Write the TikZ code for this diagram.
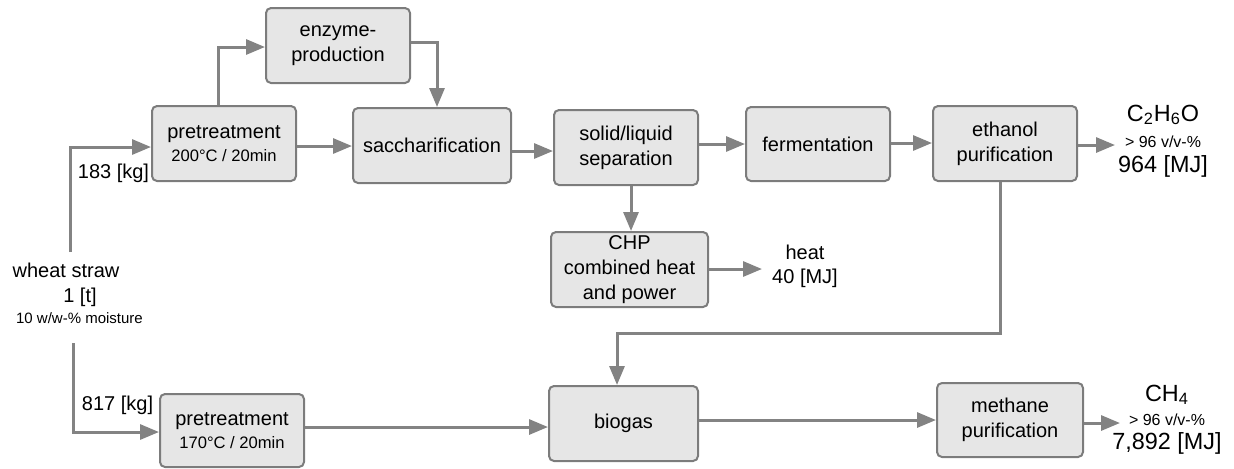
\documentclass[tikz,border=0pt]{standalone}
\usepackage{fontspec}
\setmainfont{Liberation Sans}
\usetikzlibrary{arrows.meta}
\definecolor{boxfill}{HTML}{E6E6E6}
\definecolor{boxline}{HTML}{7C7C7C}
\definecolor{flow}{HTML}{838383}
\begin{document}
\begin{tikzpicture}[x=0.5pt,y=-0.5pt,
  proc/.style={draw=boxline, fill=boxfill, line width=1pt, rounded corners=2.5pt,
    minimum height=37.5pt, minimum width=72pt, inner sep=0pt, align=center,
    font=\fontsize{10}{12.5}\selectfont},
  arr/.style={draw=flow, line width=1.5pt, -{Triangle[length=9.5pt,width=7.5pt]}},
  lbl/.style={inner sep=0pt, font=\fontsize{10}{12}\selectfont},
  sml/.style={inner sep=0pt, font=\fontsize{7.5}{9}\selectfont},
  big/.style={inner sep=0pt, font=\fontsize{11.7}{14}\selectfont}]
\useasboundingbox (0,0) rectangle (1234,468);

% process boxes
\node[proc] (pre1) at (224,143.5) {pretreatment\\[-1pt]{\fontsize{8.3}{10}\selectfont 200°C / 20min}};
\node[proc] (enz)  at (338,45.5) {enzyme-\\production};
\node[proc, minimum width=79pt] (sacc) at (432,145.5) {saccharification};
\node[proc] (sep)  at (626,147.5) {solid/liquid\\separation};
\node[proc, minimum height=37pt] (ferm) at (818,144) {fermentation};
\node[proc] (eth)  at (1005,143.5) {ethanol\\purification};
\node[proc, minimum width=78.5pt] (chp) at (629.5,269.5) {CHP\\combined heat\\and power};
\node[proc, minimum width=74.5pt] (bio) at (623.5,423.5) {biogas};
\node[proc, minimum width=73pt, minimum height=37pt] (meth) at (1010,420) {methane\\purification};
\node[proc, minimum height=36.5pt] (pre2) at (232,430.5) {pretreatment\\[-1pt]{\fontsize{8.3}{10}\selectfont 170°C / 20min}};

% feedstock
\node[lbl] (ws)  at (66,270) {wheat straw};
\node[lbl] (wsm) at (80,297) {1 [t]};
\node[sml] (wsh) at (79.5,318) {10 w/w-\% moisture};
\coordinate (s1) at (70,252);
\coordinate (s2) at (73,343);
\node[lbl] (m1) at (113.5,173) {183 [kg]};
\node[lbl] (m2) at (117.5,405) {817 [kg]};

% products
\node[big] (etp)  at (1163,115) {C\textsubscript{2}H\textsubscript{6}O};
\node[sml, font=\fontsize{8}{9}\selectfont] (etq) at (1163,142) {> 96 v/v-\%};
\node[big] (ete)  at (1163,166) {964 [MJ]};
\node[big] (mep)  at (1167,395) {CH\textsubscript{4}};
\node[sml, font=\fontsize{8}{9}\selectfont] (meq) at (1167,420) {> 96 v/v-\%};
\node[big] (mee)  at (1167,443) {7,892 [MJ]};
\node[lbl] (ht)   at (805,252) {heat};
\node[lbl] (hte)  at (805,278) {40 [MJ]};
\coordinate (etip) at (1115,145);
\coordinate (mtip) at (1120,423);
\coordinate (htip) at (762,269);

% flows
\draw[arr] (s1) |- (pre1.west |- 0,147);
\draw[arr] (s2) |- (pre2.west |- 0,432);
\draw[arr] (pre1.north -| 218,0) |- (enz.west |- 0,47);
\draw[arr] (enz.east |- 0,42) -| (sacc.north -| 437,0);
\draw[arr] (pre1.east |- 0,146) -- (sacc.west |- 0,146);
\draw[arr] (sacc.east |- 0,151) -- (sep.west |- 0,151);
\draw[arr] (sep.east |- 0,144) -- (ferm.west |- 0,144);
\draw[arr] (ferm.east |- 0,143) -- (eth.west |- 0,143);
\draw[arr] (eth.east |- 0,145) -- (etip);
\draw[arr] (sep.south -| 631,0) -- (chp.north -| 631,0);
\draw[arr] (chp.east |- 0,269) -- (htip);
\draw[arr] (eth.south -| 1000,0) |- (617,333) -- (bio.north -| 617,0);
\draw[arr] (pre2.east |- 0,427) -- (bio.west |- 0,427);
\draw[arr] (bio.east |- 0,420) -- (meth.west |- 0,420);
\draw[arr] (meth.east |- 0,423) -- (mtip);
\end{tikzpicture}
\end{document}
